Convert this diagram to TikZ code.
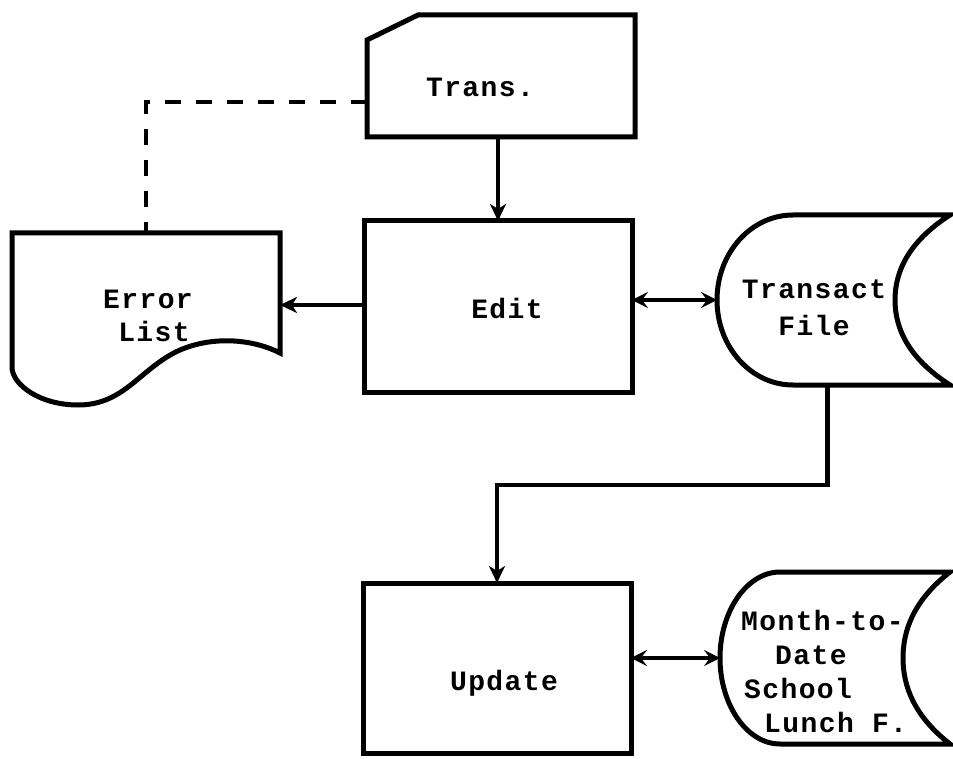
\documentclass[tikz,border=0pt]{standalone}
\usepackage{fontspec}
\newfontfamily\tw[LetterSpace=5]{Liberation Mono}
\usetikzlibrary{arrows.meta,calc}

\tikzset{
  outline/.style={line width=5pt, line join=miter},
  shapebox/.style={inner sep=0pt, outer sep=0pt},
  procbox/.style={outline, draw, inner sep=0pt, outer sep=0pt},
  lbl/.style={font=\tw\bfseries\fontsize{28}{34}\selectfont, inner sep=0pt},
  arr/.style={line width=4.5pt, -{Stealth[length=17pt,width=16pt,inset=5pt]}},
  dblarr/.style={line width=4.5pt, {Stealth[length=16pt,width=16pt,inset=6pt]}-{Stealth[length=16pt,width=16pt,inset=6pt]}},
  dashline/.style={line width=4.5pt, dash pattern=on 16pt off 15pt},
}

\begin{document}
\begin{tikzpicture}[x=1pt, y=-1pt]
  \useasboundingbox (0,0) rectangle (953,759);

  % --- input card
  \node[shapebox, minimum width=268pt, minimum height=122pt] (trans) at (501,76) {};
  \draw[outline] (367,40) -- (418,15) -- (635,15) -- (635,137) -- (367,137) -- cycle;
  \node[lbl] at (480,87) {Trans.};

  % --- edit process
  \node[procbox, minimum width=268pt, minimum height=171pt,
        label={[lbl, xshift=9pt, yshift=-2pt]center:Edit}] (edit) at (498,306.5) {};

  % --- error listing (document)
  \node[shapebox, minimum width=268pt, minimum height=172pt] (err) at (146,319) {};
  \draw[outline] (12,233) -- (280,233) -- (280,353)
    .. controls (255,340) and (215,335) .. (180,350)
    .. controls (140,368) and (125,405) .. (78,405)
    .. controls (40,405) and (13,385) .. (12,368) -- cycle;
  \node[lbl, align=center] at (148,316) {Error\\[-1pt]\hspace*{12pt}List};

  % --- transaction file (stored data)
  \node[shapebox, minimum width=233pt, minimum height=170pt] (tf) at (833.5,300) {};
  \draw[outline] (793,215) -- (950,215)
    .. controls (908,242) and (895,272) .. (895,300)
    .. controls (895,328) and (908,358) .. (950,385)
    -- (793,385)
    .. controls (751,385) and (717,347) .. (717,300)
    .. controls (717,253) and (751,215) .. (793,215) -- cycle;
  \node[lbl, align=center] at (814,308) {Transact\\[3pt]File};

  % --- update process
  \node[procbox, minimum width=268pt, minimum height=170pt,
        label={[lbl, xshift=7pt, yshift=-15pt]center:Update}] (update) at (497,668) {};

  % --- month-to-date file (stored data)
  \node[shapebox, minimum width=230pt, minimum height=172pt] (mf) at (835,658) {};
  \draw[outline] (780,572) -- (950,572)
    .. controls (914,600) and (903,630) .. (903,658)
    .. controls (903,686) and (914,716) .. (950,744)
    -- (780,744)
    .. controls (747,744) and (720,705) .. (720,658)
    .. controls (720,611) and (747,572) .. (780,572) -- cycle;
  \node[lbl, align=left, anchor=west] at (741,671)
    {Month-to-\\\hspace*{34pt}Date\\\hspace*{3pt}School\\\hspace*{23pt}Lunch F.};

  % --- connectors
  \coordinate (errtap) at (367,102);
  \draw[dashline] (errtap) -| (err.north);
  \draw[arr] (trans.south -| edit.north) -- (edit.north);
  \draw[arr] (edit.west |- 0,305) -- (err.east |- 0,305);
  \draw[dblarr] (tf.west -| edit.east) -- (tf.west);
  \draw[arr] ([xshift=-6pt]tf.south) -- ++(0,100) -| (update.north);
  \draw[dblarr] (mf.west -| update.east) -- (mf.west);
\end{tikzpicture}
\end{document}
